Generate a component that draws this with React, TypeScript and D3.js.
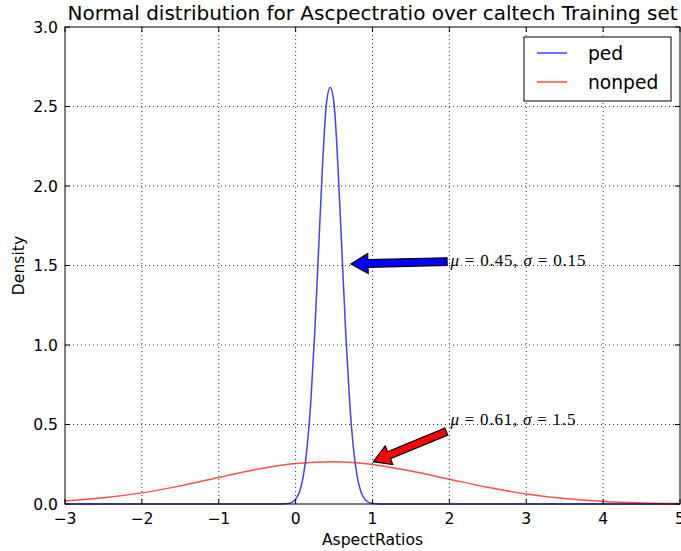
import * as d3 from 'd3';
import React from 'react';

// values
const pedX = [-3, -2, -1, -0.5, -0.2, -0.1, -0.05, 0, 0.05, 0.1, 0.15, 0.2, 0.25, 0.3, 0.35, 0.4, 0.45, 0.5, 0.55, 0.6, 0.65, 0.7, 0.75, 0.8, 0.85, 0.9, 0.95, 1.0, 1.1, 1.5, 2, 3, 4, 5];
const pedY = [0, 0, 0, 0, 0, 0.003, 0.01, 0.03, 0.076, 0.175, 0.36, 0.663, 1.093, 1.613, 2.13, 2.516, 2.62, 2.516, 2.13, 1.613, 1.093, 0.663, 0.36, 0.175, 0.076, 0.03, 0.01, 0.003, 0, 0, 0, 0, 0, 0];

const nonpedX = [-3, -2.5, -2, -1.5, -1, -0.5, 0, 0.5, 1, 1.5, 2, 2.5, 3, 3.5, 4, 4.5, 5];
const nonpedY = [0.019, 0.039, 0.07, 0.114, 0.167, 0.218, 0.254, 0.265, 0.249, 0.208, 0.156, 0.105, 0.063, 0.034, 0.016, 0.007, 0.003];

const xTicks = [-3, -2, -1, 0, 1, 2, 3, 4, 5];
const yTicks = [0, 0.5, 1.0, 1.5, 2.0, 2.5, 3.0];

const seriesNames = ['ped', 'nonped'];
const seriesColors = ['#0000ff', '#ff0000'];
const seriesOpacity = [0.75, 0.7];

// annotations: text position, arrow tail, arrow tip (data units)
const noteTexts = [['μ', ' = 0.45, ', 'σ', ' = 0.15'], ['μ', ' = 0.61, ', 'σ', ' = 1.5']];
const noteWidths = [135, 125];
const noteAt = [[2.0, 1.5], [2.0, 0.5]];
const arrowTail = [[1.97, 1.525], [1.96, 0.455]];
const arrowTip = [[0.72, 1.51], [1.01, 0.266]];
const arrowFill = ['#0000ff', '#ff0000'];

const W = 681, H = 551;
const m = { left: 65, right: 680, top: 27, bottom: 504 };

function arrowPath(t: number[], p: number[]) {
  const dx = p[0] - t[0], dy = p[1] - t[1];
  const len = Math.hypot(dx, dy);
  const ux = dx / len, uy = dy / len;
  const nx = -uy, ny = ux;
  const sw = 3.8, hw = 10, hl = 17;
  const bx = p[0] - ux * hl, by = p[1] - uy * hl;
  const pts = [
    [t[0] + nx * sw, t[1] + ny * sw],
    [bx + nx * sw, by + ny * sw],
    [bx + nx * hw, by + ny * hw],
    [p[0], p[1]],
    [bx - nx * hw, by - ny * hw],
    [bx - nx * sw, by - ny * sw],
    [t[0] - nx * sw, t[1] - ny * sw],
  ];
  return 'M' + pts.map(q => q.join(',')).join('L') + 'Z';
}

export default function App() {
  const x = d3.scaleLinear().domain([-3, 5]).range([m.left, m.right]);
  const y = d3.scaleLinear().domain([0, 3]).range([m.bottom, m.top]);

  const line = d3.line<[number, number]>()
    .x(d => x(d[0]))
    .y(d => y(d[1]))
    .curve(d3.curveMonotoneX);

  const series = [
    pedX.map((v, i) => [v, pedY[i]] as [number, number]),
    nonpedX.map((v, i) => [v, nonpedY[i]] as [number, number]),
  ];

  const font = 'DejaVu Sans, sans-serif';

  return (
    <svg width={W} height={H} style={{ position: 'absolute', left: 0, top: 0, background: '#fff' }}>
      <rect width={W} height={H} fill="#fff" />
      {/* grid */}
      <g stroke="#000" strokeWidth={1} strokeDasharray="1,3" opacity={0.8}>
        {xTicks.slice(1, -1).map(t => (
          <line key={'gx' + t} x1={x(t)} x2={x(t)} y1={m.top} y2={m.bottom} />
        ))}
        {yTicks.slice(1, -1).map(t => (
          <line key={'gy' + t} x1={m.left} x2={m.right} y1={y(t)} y2={y(t)} />
        ))}
      </g>
      {/* curves */}
      <g fill="none" strokeWidth={1.5}>
        {series.map((s, i) => (
          <path key={i} d={line(s) || ''} stroke={seriesColors[i]} strokeOpacity={seriesOpacity[i]} />
        ))}
      </g>
      {/* annotations */}
      {noteTexts.map((parts, i) => (
        <g key={'n' + i}>
          <path d={arrowPath([x(arrowTail[i][0]), y(arrowTail[i][1])], [x(arrowTip[i][0]), y(arrowTip[i][1])])}
            fill={arrowFill[i]} stroke="#000" strokeWidth={1.2} strokeLinejoin="miter" />
          <text x={x(noteAt[i][0]) + 1} y={y(noteAt[i][1])} fontFamily="Liberation Serif, DejaVu Serif, serif" fontSize={17}
            fill="#000" textLength={noteWidths[i]} lengthAdjust="spacing">
            {parts.map((p, j) => (
              <tspan key={j} fontStyle={j % 2 === 0 ? 'italic' : 'normal'} xmlSpace="preserve">{p}</tspan>
            ))}
          </text>
        </g>
      ))}
      {/* frame */}
      <rect x={m.left} y={m.top} width={m.right - m.left} height={m.bottom - m.top} fill="none" stroke="#000" strokeWidth={1} />
      {/* ticks inward on all sides */}
      <g stroke="#000" strokeWidth={1}>
        {xTicks.map(t => (
          <g key={'tx' + t}>
            <line x1={x(t)} x2={x(t)} y1={m.bottom} y2={m.bottom - 5} />
            <line x1={x(t)} x2={x(t)} y1={m.top} y2={m.top + 5} />
          </g>
        ))}
        {yTicks.map(t => (
          <g key={'ty' + t}>
            <line x1={m.left} x2={m.left + 5} y1={y(t)} y2={y(t)} />
            <line x1={m.right} x2={m.right - 5} y1={y(t)} y2={y(t)} />
          </g>
        ))}
      </g>
      {/* tick labels */}
      <g fontFamily={font} fontSize={15.6} fill="#000">
        {xTicks.map(t => (
          <text key={'lx' + t} x={x(t)} y={m.bottom + 20} textAnchor="middle">{t < 0 ? '\u2212' + Math.abs(t) : String(t)}</text>
        ))}
        {yTicks.map(t => (
          <text key={'ly' + t} x={m.left - 7} y={y(t) + 5.5} textAnchor="end">{t.toFixed(1)}</text>
        ))}
      </g>
      {/* axis labels & title */}
      <text x={(m.left + m.right) / 2} y={545} textAnchor="middle" fontFamily={font} fontSize={15.6}>AspectRatios</text>
      <text transform={`translate(24,${(m.top + m.bottom) / 2}) rotate(-90)`} textAnchor="middle" fontFamily={font} fontSize={15.6}>Density</text>
      <text x={(m.left + m.right) / 2} y={20} textAnchor="middle" fontFamily={font} fontSize={20}>Normal distribution for Ascpectratio over caltech Training set</text>
      {/* legend */}
      <g>
        <rect x={524} y={37} width={147} height={64} fill="#fff" stroke="#000" strokeWidth={1} />
        {seriesNames.map((n, i) => (
          <g key={n} transform={`translate(537,${53 + i * 29})`}>
            <line x1={0} x2={30} y1={0} y2={0} stroke={seriesColors[i]} strokeOpacity={seriesOpacity[i]} strokeWidth={1.5} />
            <text x={51} y={6.5} fontFamily={font} fontSize={18.7}>{n}</text>
          </g>
        ))}
      </g>
    </svg>
  );
}
